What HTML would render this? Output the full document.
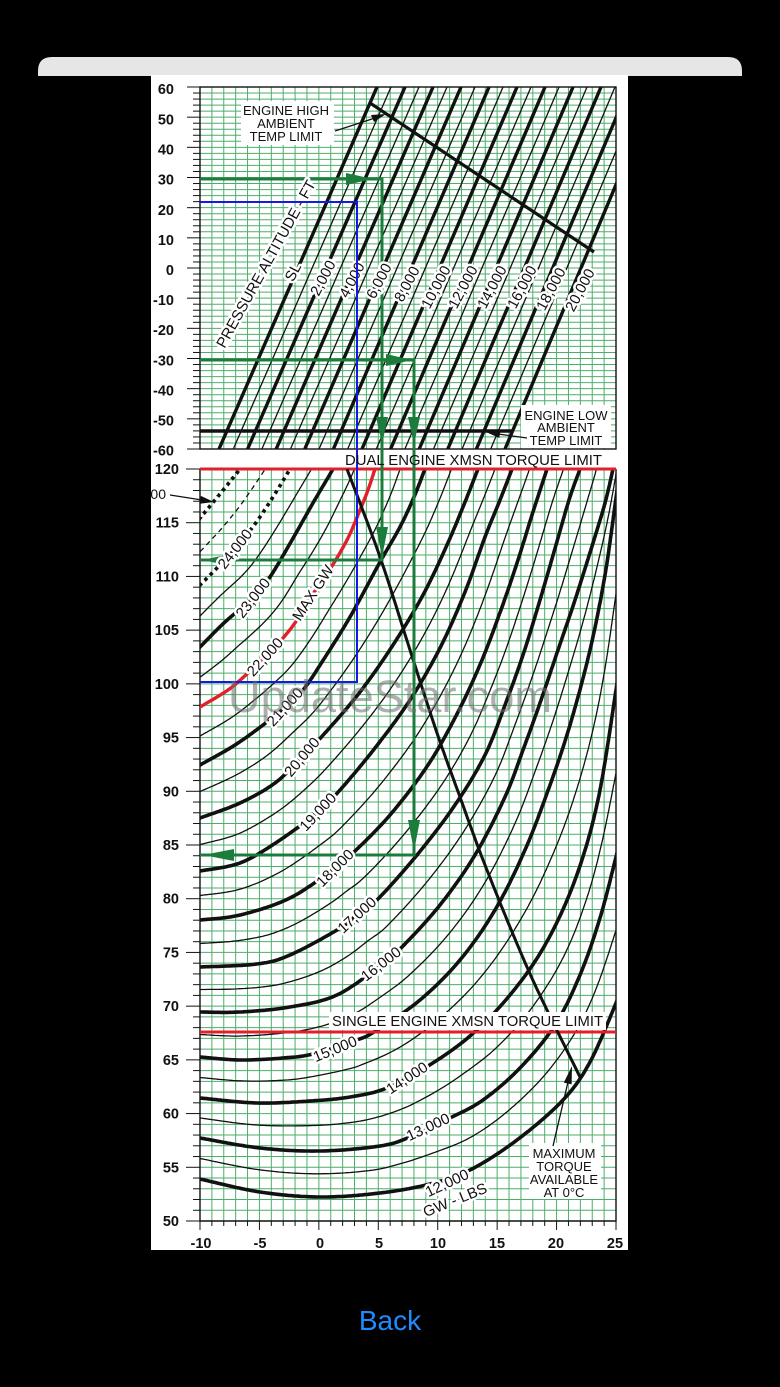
<!DOCTYPE html>
<html><head><meta charset="utf-8">
<style>
html,body{margin:0;padding:0;background:#000;}
svg{display:block;}
text{font-family:"Liberation Sans",Arial,sans-serif;}
.ax{font-size:14.5px;font-weight:bold;fill:#111;}
.axm{font-size:14.5px;font-weight:bold;fill:#111;text-anchor:middle;}
.lb{font-size:15px;fill:#111;stroke:#fff;stroke-width:5px;paint-order:stroke;stroke-linejoin:round;text-anchor:middle;}
.an{font-size:13px;fill:#111;text-anchor:middle;}
.big{font-size:14.8px;fill:#111;}
</style></head><body>
<svg id="s" width="780" height="1387" viewBox="0 0 780 1387" xmlns="http://www.w3.org/2000/svg">
<rect width="780" height="1387" fill="#000"/>
<path d="M38,76 V71 Q38,57 52,57 H728 Q742,57 742,71 V76 Z" fill="#e6e6e6"/>
<defs>
 <clipPath id="cimg"><rect x="151" y="75" width="477" height="1175"/></clipPath>
 <clipPath id="ctop"><rect x="200" y="87" width="416" height="362"/></clipPath>
 <clipPath id="cbot"><rect x="200" y="469" width="416" height="752"/></clipPath>
</defs>
<g clip-path="url(#cimg)">
 <rect x="151" y="75" width="477" height="1175" fill="#fff"/>
 <g id="grid" stroke="#4dae6a" stroke-width="1"></g>
 <g id="ticks" stroke="#111" stroke-width="1"></g>
 <rect x="200" y="87" width="416" height="362" fill="none" stroke="#111" stroke-width="1.4"/>
 <path d="M200,469 V1221 H616 V469" fill="none" stroke="#111" stroke-width="1.4"/>
 <g id="toplines" clip-path="url(#ctop)" stroke="#111" fill="none"></g>
 <line x1="370" y1="103" x2="594" y2="252" stroke="#111" stroke-width="3.2"/>
 <line x1="200" y1="431" x2="512" y2="431" stroke="#111" stroke-width="3.5"/>
 <g id="curves" clip-path="url(#cbot)" fill="none"></g>
 <line x1="200" y1="469" x2="616" y2="469" stroke="#e2202b" stroke-width="3"/>
 <line x1="200" y1="1032" x2="616" y2="1032" stroke="#e2202b" stroke-width="3"/>
 <g id="maxt" fill="none" stroke="#111" stroke-width="3"></g>
 <!-- green -->
 <g stroke="#1c7c3c" stroke-width="3" fill="none">
  <polyline points="200,179 382,179 382,560 200,560"/>
  <polyline points="200,360 414,360 414,855 200,855"/>
 </g>
 <g fill="#1c7c3c">
  <polygon points="373,179 346,173 346,185"/>
  <polygon points="382,444 376,417 388,417"/>
  <polygon points="414,444 408,417 420,417"/>
  <polygon points="412,360 386,354 386,366"/>
  <polygon points="382,557 376,527 388,527"/>
  <polygon points="202,560 231,554 231,566"/>
  <polygon points="414,851 408,820 420,820"/>
  <polygon points="203,855 234,849 234,861"/>
 </g>
 <!-- top labels -->
 <text class="lb" transform="translate(266,264) rotate(-61)" dy="5">PRESSURE ALTITUDE - FT</text>
 <text class="lb" transform="translate(293,272) rotate(-62)" dy="5">SL</text>
 <text class="lb" transform="translate(323,278) rotate(-62)" dy="5">2,000</text>
 <text class="lb" transform="translate(352,280) rotate(-62)" dy="5">4,000</text>
 <text class="lb" transform="translate(379,281) rotate(-62)" dy="5">6,000</text>
 <text class="lb" transform="translate(407,284) rotate(-62)" dy="5">8,000</text>
 <text class="lb" transform="translate(436,287) rotate(-62)" dy="5">10,000</text>
 <text class="lb" transform="translate(463,287) rotate(-62)" dy="5">12,000</text>
 <text class="lb" transform="translate(492,287) rotate(-62)" dy="5">14,000</text>
 <text class="lb" transform="translate(522,287) rotate(-62)" dy="5">16,000</text>
 <text class="lb" transform="translate(551,289) rotate(-62)" dy="5">18,000</text>
 <text class="lb" transform="translate(580,290) rotate(-62)" dy="5">20,000</text>
 <!-- bottom labels -->
 <text class="lb" transform="translate(447,1183) rotate(-25)" dy="5">12,000</text>
 <text class="lb" transform="translate(455,1200) rotate(-22)" dy="5">GW - LBS</text>
 <text class="lb" transform="translate(428,1127) rotate(-25)" dy="5">13,000</text>
 <text class="lb" transform="translate(407,1078) rotate(-33)" dy="5">14,000</text>
 <text class="lb" transform="translate(335,1049) rotate(-22)" dy="5">15,000</text>
 <text class="lb" transform="translate(381,964) rotate(-38)" dy="5">16,000</text>
 <text class="lb" transform="translate(357,915) rotate(-42)" dy="5">17,000</text>
 <text class="lb" transform="translate(335,868) rotate(-45)" dy="5">18,000</text>
 <text class="lb" transform="translate(318,812) rotate(-47)" dy="5">19,000</text>
 <text class="lb" transform="translate(302,757) rotate(-50)" dy="5">20,000</text>
 <text class="lb" transform="translate(285,707) rotate(-48)" dy="5">21,000</text>
 <text class="lb" transform="translate(265,657) rotate(-48)" dy="5">22,000</text>
 <text class="lb" transform="translate(313,593) rotate(-57)" dy="5">MAX GW</text>
 <text class="lb" transform="translate(253,598) rotate(-52)" dy="5">23,000</text>
 <text class="lb" transform="translate(235,549) rotate(-52)" dy="5">24,000</text>
 <text x="166" y="499" font-size="14" fill="#111" text-anchor="end">25,000</text>
 <!-- blue -->
 <polyline points="200,202 357,202 357,682 200,682" fill="none" stroke="#1717e6" stroke-width="2"/>
 <!-- annotations -->
 <rect x="241" y="101" width="93" height="44" fill="#fff"/>
 <text class="an" x="286" y="115">ENGINE HIGH</text>
 <text class="an" x="286" y="128">AMBIENT</text>
 <text class="an" x="286" y="141">TEMP LIMIT</text>
 <line x1="335" y1="131" x2="375" y2="118" stroke="#111" stroke-width="1.3"/>
 <polygon points="386,114 374,122 371,115" fill="#111"/>
 <rect x="521" y="405" width="90" height="43" fill="#fff"/>
 <text class="an" x="566" y="420">ENGINE LOW</text>
 <text class="an" x="566" y="432">AMBIENT</text>
 <text class="an" x="566" y="445">TEMP LIMIT</text>
 <line x1="527" y1="438" x2="498" y2="434" stroke="#111" stroke-width="1.3"/>
 <polygon points="486,432 500.5,430 499.3,438" fill="#111"/>
 <line x1="170" y1="495" x2="202" y2="500" stroke="#111" stroke-width="1.3"/>
 <polygon points="214,502 199.6,503.7 200.8,495.9" fill="#111"/>
 <text class="big" x="345" y="465" textLength="257" lengthAdjust="spacingAndGlyphs">DUAL ENGINE XMSN TORQUE LIMIT</text>
 <rect x="329" y="1012" width="277" height="18" fill="#fff"/>
 <text class="big" x="332" y="1026" textLength="271" lengthAdjust="spacingAndGlyphs">SINGLE ENGINE XMSN TORQUE LIMIT</text>
 <rect x="529" y="1143" width="72" height="56" fill="#fff"/>
 <text class="an" x="564" y="1158">MAXIMUM</text>
 <text class="an" x="564" y="1171">TORQUE</text>
 <text class="an" x="564" y="1184">AVAILABLE</text>
 <text class="an" x="564" y="1197">AT 0°C</text>
 <line x1="553" y1="1146" x2="568" y2="1082" stroke="#111" stroke-width="1.3"/>
 <polygon points="572,1066 571.6,1084.4 563.8,1082.6" fill="#111"/>
 <!-- axis labels top -->
 <g class="ax" text-anchor="end">
  <text x="174" y="94">60</text><text x="174" y="124.5">50</text><text x="174" y="154.6">40</text>
  <text x="174" y="184.7">30</text><text x="174" y="214.8">20</text><text x="174" y="244.9">10</text>
  <text x="174" y="275">0</text><text x="174" y="305.1">-10</text><text x="174" y="335.2">-20</text>
  <text x="174" y="365.3">-30</text><text x="174" y="395.4">-40</text><text x="174" y="425.5">-50</text>
  <text x="174" y="455.6">-60</text>
 </g>
 <g class="ax" text-anchor="end">
  <text x="179" y="474">120</text><text x="179" y="527.7">115</text><text x="179" y="581.4">110</text>
  <text x="179" y="635.1">105</text><text x="179" y="688.9">100</text><text x="179" y="742.6">95</text>
  <text x="179" y="796.3">90</text><text x="179" y="850">85</text><text x="179" y="903.7">80</text>
  <text x="179" y="957.4">75</text><text x="179" y="1011.2">70</text><text x="179" y="1064.9">65</text>
  <text x="179" y="1118.6">60</text><text x="179" y="1172.3">55</text><text x="179" y="1226">50</text>
 </g>
 <g class="axm">
  <text x="201" y="1248">-10</text><text x="260" y="1248">-5</text><text x="320" y="1248">0</text>
  <text x="379" y="1248">5</text><text x="438" y="1248">10</text><text x="497" y="1248">15</text>
  <text x="556" y="1248">20</text><text x="615" y="1248">25</text>
 </g>
 <text x="390" y="712" font-size="45" fill="#6e6e6e" fill-opacity="0.55" text-anchor="middle" textLength="324" lengthAdjust="spacingAndGlyphs">UpdateStar.com</text>
</g>
<text x="390" y="1330" font-size="28" fill="#1e8cff" text-anchor="middle">Back</text>
</svg>
<script>
(function(){
var NS='http://www.w3.org/2000/svg';
function mk(p,tag,a){var e=document.createElementNS(NS,tag);for(var k in a)e.setAttribute(k,a[k]);p.appendChild(e);return e;}
function ln(p,x1,y1,x2,y2,a){a=a||{};a.x1=x1;a.y1=y1;a.x2=x2;a.y2=y2;return mk(p,'line',a);}
var G=document.getElementById('grid'),T=document.getElementById('ticks');
var dx=416/35,i,j,x,y;
for(i=0;i<=35;i++){x=200+i*dx;ln(G,x,87,x,449);ln(G,x,469,x,1221);
  ln(T,x,1221,x,1221+((i%5==0)?9:5));}
for(j=0;j<=60;j++){y=87+j*362/60;ln(G,200,y,616,y);
  var t=60-2*j;ln(T,200-((t%10==0)?13:7),y,200,y);}
for(j=0;j<=70;j++){y=469+j*752/70;ln(G,200,y,616,y);
  var q=120-j;ln(T,200-((q%5==0)?14:7),y,200,y);}
var TL=document.getElementById('toplines');
for(var k=0;k<=20;k++){
  ln(TL,377+14*k,87,219+14.3*k,449,{'stroke-width':(k%2==0)?3.4:1.3});
}
function crSample(pts,n){n=n||14;var out=[];
  for(var i=0;i<pts.length-1;i++){
    var p0=pts[Math.max(i-1,0)],p1=pts[i],p2=pts[i+1],p3=pts[Math.min(i+2,pts.length-1)];
    for(var j=0;j<n;j++){var t=j/n,t2=t*t,t3=t2*t;
      var f=function(a,b,c,d){return 0.5*((2*b)+(-a+c)*t+(2*a-5*b+4*c-d)*t2+(-a+3*b-3*c+d)*t3);};
      out.push([f(p0[0],p1[0],p2[0],p3[0]),f(p0[1],p1[1],p2[1],p3[1])]);}
  }
  out.push(pts[pts.length-1]);return out;}
function resample(pts,N){var L=[0];
  for(var i=1;i<pts.length;i++)L.push(L[i-1]+Math.hypot(pts[i][0]-pts[i-1][0],pts[i][1]-pts[i-1][1]));
  var tot=L[L.length-1],out=[],k=0;
  for(var i=0;i<N;i++){var s=tot*i/(N-1);
    while(k<pts.length-2&&L[k+1]<s)k++;
    var seg=(L[k+1]-L[k])||1,t=(s-L[k])/seg;
    out.push([pts[k][0]+(pts[k+1][0]-pts[k][0])*t,pts[k][1]+(pts[k+1][1]-pts[k][1])*t]);}
  return out;}
function path(pts){return 'M'+pts.map(function(p){return p[0].toFixed(1)+','+p[1].toFixed(1);}).join('L');}
var H={
12000:[[200,1179],[260,1192],[320,1197],[380,1193],[430,1184],[470,1170],[517,1140],[563,1100],[590,1062],[616,1003],[620,990]],
13000:[[200,1138],[260,1148],[320,1151],[380,1146],[410,1137],[450,1118],[483,1100],[520,1068],[555,1025],[580,975],[600,918],[616,857],[619,845]],
14000:[[200,1098],[257,1103],[310,1101],[350,1097],[387,1088],[428,1066],[470,1036],[510,995],[545,945],[575,880],[598,800],[616,690],[618,675]],
15000:[[200,1057],[240,1060],[283,1058],[313,1054],[357,1040],[377,1030],[420,1000],[460,960],[495,910],[525,850],[550,785],[570,725],[590,650],[605,575],[616,498],[618,485]],
16000:[[200,1012],[240,1012],[290,1007],[337,995],[381,965],[402,947],[440,905],[475,855],[505,797],[523,750],[540,703],[558,650],[575,600],[593,543],[605,503],[613,469],[614,462]],
17000:[[200,967],[257,964],[290,955],[337,930],[357,915],[377,900],[417,855],[455,805],[485,755],[505,705],[523,655],[540,600],[556,545],[569,500],[580,469],[582,462]],
18000:[[200,920],[240,915],[290,898],[335,868],[353,853],[390,815],[428,765],[458,712],[482,660],[502,607],[518,560],[532,515],[547,469],[549,462]],
19000:[[200,871],[240,863],[277,842],[318,812],[340,790],[375,748],[410,700],[440,648],[465,592],[485,537],[500,500],[512,469],[514,462]],
20000:[[200,818],[240,803],[275,783],[302,757],[325,733],[360,692],[393,645],[423,595],[447,545],[465,502],[478,469],[481,462]],
21000:[[200,765],[235,745],[267,722],[285,707],[303,690],[322,662],[350,617],[380,562],[400,527],[414,497],[425,469],[428,462]],
22000:[[200,707],[228,690],[248,673],[265,657],[283,638],[297,620],[313,594],[332,566],[348,538],[360,510],[368,490],[375,469]],
23000:[[200,647],[225,622],[253,598],[270,577],[292,540],[313,503],[333,469],[336,462]],
24000:[[200,585],[218,567],[235,549],[255,524],[273,497],[290,469],[294,462]],
25000:[[200,518],[220,494],[240,469],[245,462]]
};
var N=300,R={},keys=[12000,13000,14000,15000,16000,17000,18000,19000,20000,21000,22000,23000,24000,25000];
keys.forEach(function(k){var h=H[k].slice();h.unshift([h[0][0]-6,h[0][1]+(h[0][1]-h[1][1])*6/(h[1][0]-h[0][0])]);R[k]=resample(crSample(h),N);});
var C=document.getElementById('curves');
for(var a=0;a<keys.length-1;a++){
  var A=R[keys[a]],B=R[keys[a+1]];
  var av=A.map(function(p,i){return [(p[0]+B[i][0])/2,(p[1]+B[i][1])/2];});
  var at={d:path(av),stroke:'#111','stroke-width':1.3};
  if(keys[a]==24000)at['stroke-dasharray']='5 4';
  mk(C,'path',at);
}
keys.forEach(function(k){
  var at={d:path(R[k]),'stroke-width':3.6,stroke:'#111','stroke-linecap':'round'};
  if(k==22000){at.stroke='#e2202b';at['stroke-width']=3.4;}
  if(k==24000||k==25000){at['stroke-dasharray']='3.5 4';at['stroke-linecap']='butt';}
  mk(C,'path',at);
});
var M=[[347,469],[380,557],[410,650],[437,733],[460,797],[480,852],[503,910],[527,967],[547,1010],[580,1077]];
mk(document.getElementById('maxt'),'path',{d:path(crSample(M))});
})();
</script>
</body></html>
